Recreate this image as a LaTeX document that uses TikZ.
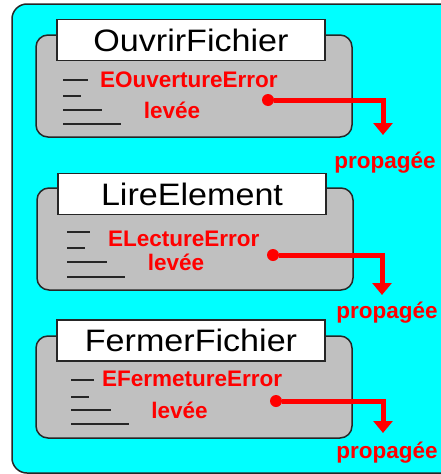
\documentclass[tikz,border=0pt]{standalone}
\usepackage{fontspec}
\setmainfont{Liberation Sans}
\usetikzlibrary{arrows.meta}
\definecolor{fond}{RGB}{0,255,255}
\definecolor{gris}{RGB}{192,192,192}
\definecolor{rouge}{RGB}{255,0,0}
\newcommand{\elargi}[1]{\scalebox{1.1}[1]{#1}}

\begin{document}
\begin{tikzpicture}[x=1pt,y=-1pt,
  bloc/.style={draw=black!85,line width=1.5pt,fill=gris,rounded corners=12pt,minimum width=316pt,minimum height=102pt},
  titre/.style={draw=black!85,line width=1.5pt,fill=white,minimum width=268pt,minimum height=41pt,inner sep=0pt,font=\fontsize{31}{31}\selectfont},
  err/.style={text=rouge,font=\bfseries\fontsize{22.5}{22.5}\selectfont,inner sep=0pt},
  point/.style={circle,fill=rouge,inner sep=0pt,minimum size=12pt},
  propag/.style={draw=rouge,line width=5pt,-{Triangle[width=19pt,length=12pt]}},
  trait/.style={line width=1.5pt,black!85}]
  \clip (0,0) rectangle (441,474);
  \draw[fill=fond,draw=black!85,line width=1.5pt,rounded corners=15pt] (12,4) rectangle (480,473);
  % OuvrirFichier
  \node[bloc] (b1) at (194,86) {};
  \node[titre] (t1) at (191,40) {\elargi{OuvrirFichier}};
  \draw[trait] (63,80) -- (88,80); \draw[trait] (63,96) -- (81,96);
  \draw[trait] (63,110) -- (102,110); \draw[trait] (63,124) -- (121,124);
  \node[err,anchor=west] (e1) at (100,80) {EOuvertureError};
  \node[err] (l1) at (172,110) {levée};
  \node[point] (p1) at (268,100) {};
  \coordinate (f1) at (383,135);
  \draw[propag] (p1) -| (f1);
  \node[err,anchor=base] (s1) at (385,168) {propagée};
  % LireElement
  \node[bloc] (b2) at (195,239) {};
  \node[titre] (t2) at (192,194) {\elargi{LireElement}};
  \draw[trait] (67,232) -- (90,232); \draw[trait] (67,248) -- (85,248);
  \draw[trait] (67,262) -- (107,262); \draw[trait] (67,277) -- (125,277);
  \node[err,anchor=west] (e2) at (108,238.5) {ELectureError};
  \node[err] (l2) at (176,262) {levée};
  \node[point] (p2) at (273,255) {};
  \coordinate (f2) at (382,295);
  \draw[propag] (p2) -| (f2);
  \node[err,anchor=base] (s2) at (387,318) {propagée};
  % FermerFichier
  \node[bloc] (b3) at (194,387) {};
  \node[titre] (t3) at (191,340.5) {\elargi{FermerFichier}};
  \draw[trait] (71,380) -- (94,380); \draw[trait] (71,397) -- (89,397);
  \draw[trait] (71,410) -- (111,410); \draw[trait] (71,424) -- (129,424);
  \node[err,anchor=west] (e3) at (102,379) {EFermetureError};
  \node[err] (l3) at (179.5,410) {levée};
  \node[point] (p3) at (276,401) {};
  \coordinate (f3) at (383,433);
  \draw[propag] (p3) -| (f3);
  \node[err,anchor=base] (s3) at (387,458) {propagée};
\end{tikzpicture}
\end{document}
